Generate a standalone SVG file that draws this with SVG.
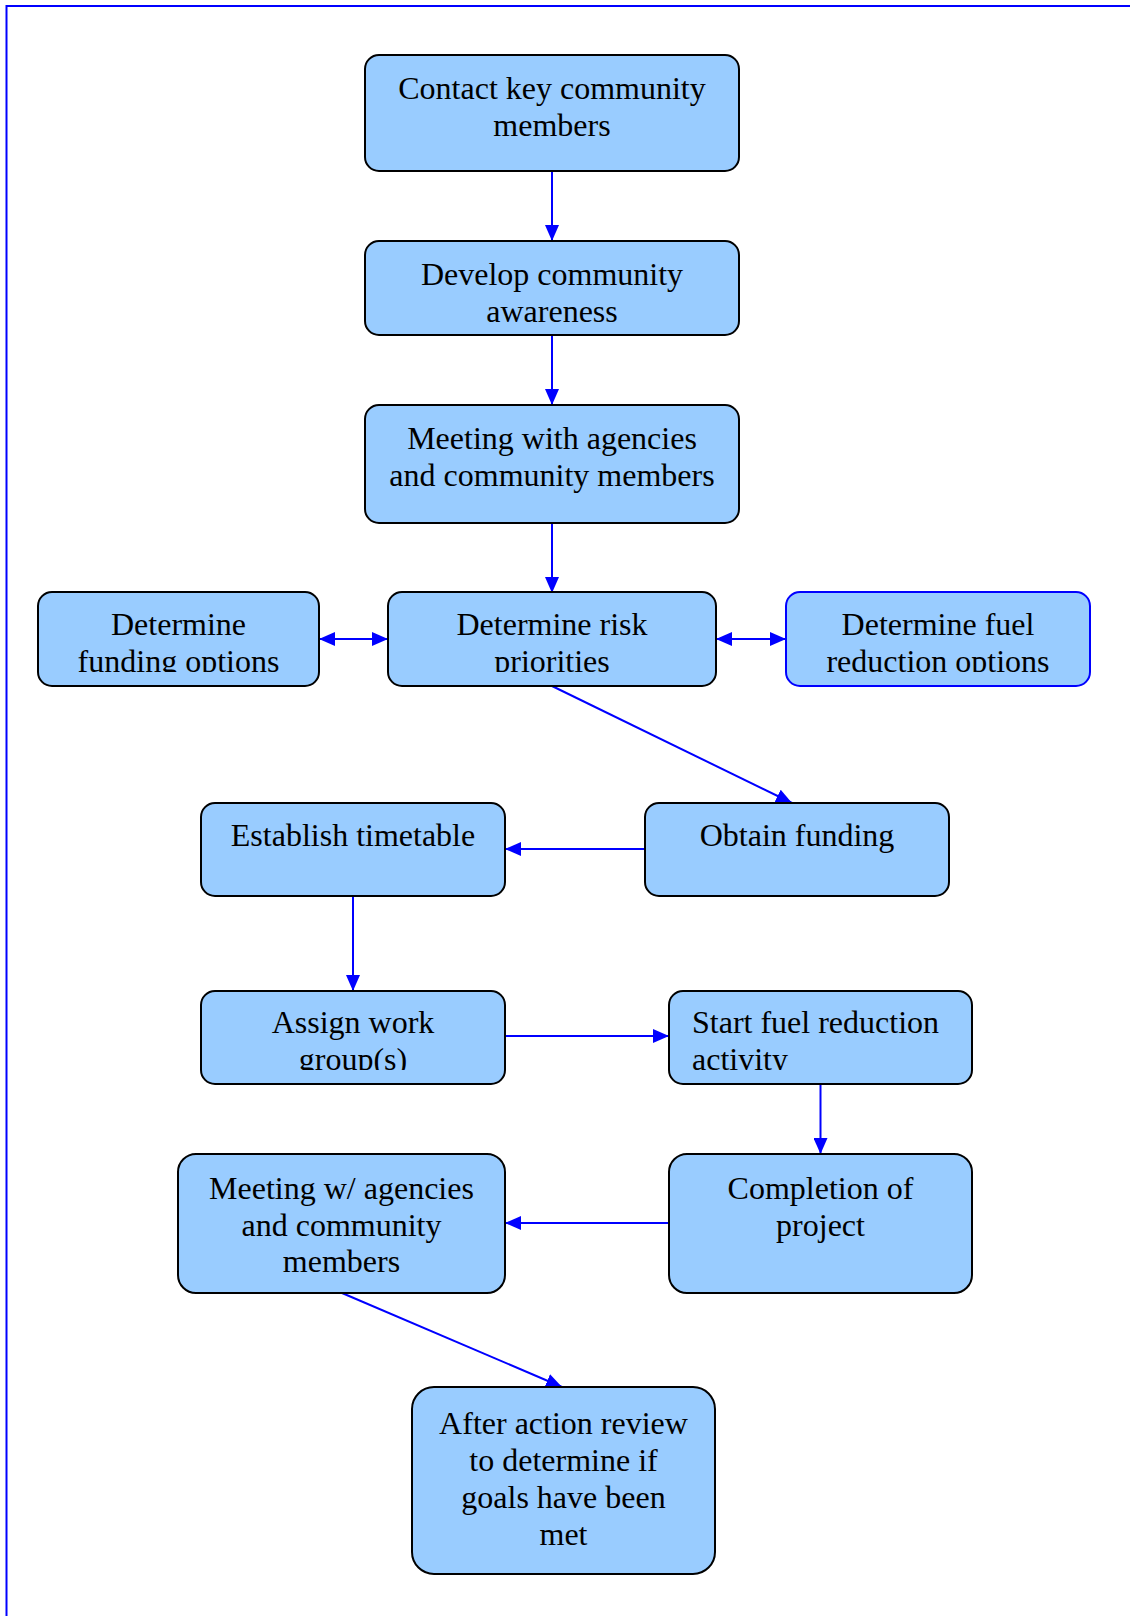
<svg xmlns="http://www.w3.org/2000/svg" width="1130" height="1616" viewBox="0 0 1130 1616">
<style>
.box{fill:#99CCFF;stroke:#000;stroke-width:2}
.boxb{fill:#99CCFF;stroke:#0000FF;stroke-width:2}
.t{font-family:"Liberation Serif","Times New Roman",serif;font-size:32px;fill:#000;text-anchor:middle}
.ts{font-family:"Liberation Serif","Times New Roman",serif;font-size:32px;fill:#000;text-anchor:start}
.c{stroke:#0000FF;stroke-width:2;fill:none}
</style>
<defs>
<marker id="ah" viewBox="0 0 16 14" refX="16" refY="7" markerWidth="16" markerHeight="14" markerUnits="userSpaceOnUse" orient="auto-start-reverse">
<path d="M0,0 L16,7 L0,14 Z" fill="#0000FF"/>
</marker>
<clipPath id="clip4"><rect x="0" y="560" width="1130" height="112"/></clipPath>
<clipPath id="clip6"><rect x="0" y="960" width="1130" height="110"/></clipPath>
</defs>
<rect x="6.5" y="6" width="1200" height="1700" fill="none" stroke="#0000FF" stroke-width="2"/>

<g id="connectors">
<line class="c" x1="552" y1="171" x2="552" y2="241" marker-end="url(#ah)"/>
<line class="c" x1="552" y1="335" x2="552" y2="405" marker-end="url(#ah)"/>
<line class="c" x1="552" y1="523" x2="552" y2="593" marker-end="url(#ah)"/>
<line class="c" x1="319" y1="639" x2="388" y2="639" marker-start="url(#ah)" marker-end="url(#ah)"/>
<line class="c" x1="716" y1="639" x2="786" y2="639" marker-start="url(#ah)" marker-end="url(#ah)"/>
<line class="c" x1="552" y1="686" x2="792" y2="803" marker-end="url(#ah)"/>
<line class="c" x1="645" y1="849" x2="505" y2="849" marker-end="url(#ah)"/>
<line class="c" x1="353" y1="896" x2="353" y2="991" marker-end="url(#ah)"/>
<line class="c" x1="505" y1="1036" x2="669" y2="1036" marker-end="url(#ah)"/>
<line class="c" x1="820.5" y1="1084" x2="820.5" y2="1154" marker-end="url(#ah)"/>
<line class="c" x1="669" y1="1223" x2="505" y2="1223" marker-end="url(#ah)"/>
<line class="c" x1="342" y1="1293" x2="562" y2="1387" marker-end="url(#ah)"/>
</g>

<g id="n1">
<rect class="box" x="365" y="55" width="374" height="116" rx="14"/>
<text class="t" x="552" y="99">Contact key community</text>
<text class="t" x="552" y="136">members</text>
</g>
<g id="n2">
<rect class="box" x="365" y="241" width="374" height="94" rx="14"/>
<text class="t" x="552" y="285">Develop community</text>
<text class="t" x="552" y="322">awareness</text>
</g>
<g id="n3">
<rect class="box" x="365" y="405" width="374" height="118" rx="14"/>
<text class="t" x="552" y="449">Meeting with agencies</text>
<text class="t" x="552" y="486">and community members</text>
</g>
<g id="n4a">
<rect class="box" x="38" y="592" width="281" height="94" rx="14"/>
<g clip-path="url(#clip4)">
<text class="t" x="178.5" y="635">Determine</text>
<text class="t" x="178.5" y="672">funding options</text>
</g>
</g>
<g id="n4b">
<rect class="box" x="388" y="592" width="328" height="94" rx="14"/>
<g clip-path="url(#clip4)">
<text class="t" x="552" y="635">Determine risk</text>
<text class="t" x="552" y="672">priorities</text>
</g>
</g>
<g id="n4c">
<rect class="boxb" x="786" y="592" width="304" height="94" rx="14"/>
<g clip-path="url(#clip4)">
<text class="t" x="938" y="635">Determine fuel</text>
<text class="t" x="938" y="672">reduction options</text>
</g>
</g>
<g id="n5a">
<rect class="box" x="201" y="803" width="304" height="93" rx="14"/>
<text class="t" x="353" y="846">Establish timetable</text>
</g>
<g id="n5b">
<rect class="box" x="645" y="803" width="304" height="93" rx="14"/>
<text class="t" x="797" y="846">Obtain funding</text>
</g>
<g id="n6a">
<rect class="box" x="201" y="991" width="304" height="93" rx="14"/>
<g clip-path="url(#clip6)">
<text class="t" x="353" y="1033">Assign work</text>
<text class="t" x="353" y="1070">group(s)</text>
</g>
</g>
<g id="n6b">
<rect class="box" x="669" y="991" width="303" height="93" rx="14"/>
<g clip-path="url(#clip6)">
<text class="ts" x="692" y="1033">Start fuel reduction</text>
<text class="ts" x="692" y="1070">activity</text>
</g>
</g>
<g id="n7a">
<rect class="box" x="178" y="1154" width="327" height="139" rx="18"/>
<text class="t" x="341.5" y="1199">Meeting w/ agencies</text>
<text class="t" x="341.5" y="1236">and community</text>
<text class="t" x="341.5" y="1272">members</text>
</g>
<g id="n7b">
<rect class="box" x="669" y="1154" width="303" height="139" rx="18"/>
<text class="t" x="820.5" y="1199">Completion of</text>
<text class="t" x="820.5" y="1236">project</text>
</g>
<g id="n8">
<rect class="box" x="412" y="1387" width="303" height="187" rx="22"/>
<text class="t" x="563.5" y="1434">After action review</text>
<text class="t" x="563.5" y="1471">to determine if</text>
<text class="t" x="563.5" y="1508">goals have been</text>
<text class="t" x="563.5" y="1545">met</text>
</g>
</svg>
